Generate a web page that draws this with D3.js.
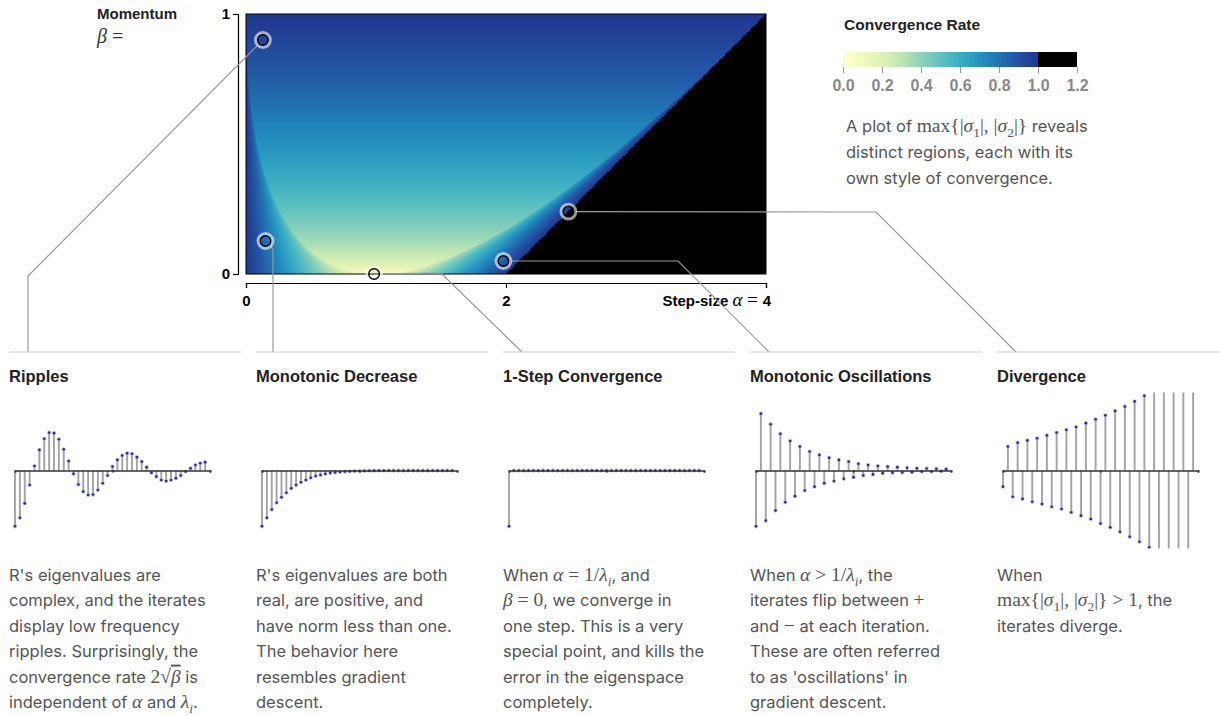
<html>
<head>
<script src="https://d3js.org/d3.v7.min.js"></script>
<style>
  body { margin: 0; background: #fff; }
  svg { display: block; }
  .ttl { font-family: "Liberation Sans", Arial, sans-serif; font-weight: bold; font-size: 16.5px; fill: #222; }
  .body { font-family: Inter, "Noto Sans", sans-serif; font-size: 16.5px; fill: #555; }
  .tk text { font-family: "Liberation Sans", Arial, sans-serif; font-weight: bold; font-size: 15px; fill: #000; }
  .tk path, .tk line { stroke: #000; stroke-width: 1.2; }
</style>
</head>
<body>
<div id="fig"></div>
<script>
// ---- data ----
var alphaDomain = [0, 4];
var betaDomain = [0, 1];
var rateTicks = [0, 0.2, 0.4, 0.6, 0.8, 1.0, 1.2];

var panelTitles = ["Ripples", "Monotonic Decrease", "1-Step Convergence", "Monotonic Oscillations", "Divergence"];
// sample points marked on the heatmap (alpha, beta) for each panel
var pointAlpha = [0.13, 0.15, 0.985, 1.98, 2.48];
var pointBeta  = [0.90, 0.127, 0.0, 0.05, 0.24];

var ripples = [-1, -0.85, -0.59, -0.26, 0.08, 0.37, 0.57, 0.68, 0.67, 0.56,
  0.38, 0.17, -0.06, -0.25, -0.38, -0.44, -0.43, -0.35, -0.23, -0.09,
  0.07, 0.19, 0.27, 0.31, 0.30, 0.24, 0.16, 0.06, -0.04, -0.11,
  -0.17, -0.19, -0.17, -0.14, -0.09, -0.02, 0.04, 0.10, 0.13, 0.15];
var monoDecrease = [-1, -0.85, -0.70, -0.58, -0.48, -0.40, -0.32, -0.26, -0.21, -0.17,
  -0.13, -0.10, -0.08, -0.06, -0.045, -0.035, -0.027, -0.02, -0.015, -0.011,
  -0.008, -0.006, -0.004, -0.003, -0.002, -0.0015, -0.001, -0.001, 0, 0,
  0, 0, 0, 0, 0, 0, 0, 0, 0, 0];
var oneStep = [-1, 0, 0, 0, 0, 0, 0, 0, 0, 0,
  0, 0, 0, 0, 0, 0, 0, 0, 0, 0,
  0, 0, 0, 0, 0, 0, 0, 0, 0, 0,
  0, 0, 0, 0, 0, 0, 0, 0, 0, 0];
var monoOscillation = [-1, 1.02, -0.90, 0.83, -0.72, 0.66, -0.57, 0.53, -0.46, 0.43,
  -0.36, 0.34, -0.29, 0.28, -0.23, 0.23, -0.19, 0.19, -0.15, 0.16,
  -0.12, 0.12, -0.09, 0.10, -0.07, 0.08, -0.05, 0.07, -0.04, 0.06,
  -0.036, 0.05, -0.03, 0.04, -0.02, 0.036, -0.02, 0.03, -0.012, 0.024];
var divergence = [-0.29, 0.43, -0.47, 0.50, -0.51, 0.54, -0.56, 0.58, -0.60, 0.63,
  -0.65, 0.68, -0.69, 0.73, -0.75, 0.78, -0.81, 0.85, -0.87, 0.92,
  -0.95, 0.99, -1.02, 1.07, -1.10, 1.15, -1.19, 1.24, -1.28, 1.34,
  -1.38, 1.44, -1.50, 1.56, -1.63, 1.70, -1.77, 1.84, -1.92, 2.00];
var series = [ripples, monoDecrease, oneStep, monoOscillation, divergence];

// text: $...$ is math, _x subscript, ~x overlined
var panelText = [
  ["R's eigenvalues are", "complex, and the iterates", "display low frequency", "ripples. Surprisingly, the",
   "convergence rate $2√~β$ is", "independent of $α$ and $λ_i$."],
  ["R's eigenvalues are both", "real, are positive, and", "have norm less than one.", "The behavior here",
   "resembles gradient", "descent."],
  ["When $α = 1/λ_i$, and", "$β = 0$, we converge in", "one step. This is a very", "special point, and kills the",
   "error in the eigenspace", "completely."],
  ["When $α > 1/λ_i$, the", "iterates flip between $+$", "and $−$ at each iteration.", "These are often referred",
   "to as 'oscillations' in", "gradient descent."],
  ["When", "$max{|σ_1|, |σ_2|} > 1$, the", "iterates diverge."]
];
var descText = ["A plot of $max{|σ_1|, |σ_2|}$ reveals", "distinct regions, each with its", "own style of convergence."];

// ---- setup ----
var width = 1220, height = 715;
var svg = d3.select("#fig").append("svg")
  .attr("width", width)
  .attr("height", height);

var x = d3.scaleLinear().domain(alphaDomain).range([246, 766]);
var y = d3.scaleLinear().domain(betaDomain).range([274, 14]);
var color = d3.scaleSequential(d3.interpolateYlGnBu).domain([0, 1 / 0.875]);

// spectral radius of the momentum iteration matrix (lambda = 1)
function rate(a, b) {
  var tr = 1 + b - a;
  var disc = tr * tr - 4 * b;
  if (disc < 0) return Math.sqrt(b);
  var s = Math.sqrt(disc);
  return Math.max(Math.abs((tr + s) / 2), Math.abs((tr - s) / 2));
}
function rateColor(r) { return r >= 1 ? "#000" : color(r); }

// heatmap via canvas -> image
var hw = 520, hh = 260;
var cv = document.createElement("canvas");
cv.width = hw; cv.height = hh;
var ctx = cv.getContext("2d");
var img = ctx.createImageData(hw, hh);
for (var py = 0; py < hh; py++) {
  for (var px = 0; px < hw; px++) {
    var c = d3.rgb(rateColor(rate(x.invert(246 + px + 0.5), y.invert(14 + py + 0.5))));
    var k = (py * hw + px) * 4;
    img.data[k] = c.r; img.data[k + 1] = c.g; img.data[k + 2] = c.b; img.data[k + 3] = 255;
  }
}
ctx.putImageData(img, 0, 0);
svg.append("image")
  .attr("x", 246).attr("y", 14).attr("width", hw).attr("height", hh)
  .attr("href", cv.toDataURL());
svg.append("rect")
  .attr("x", 246).attr("y", 14).attr("width", hw).attr("height", hh)
  .attr("fill", "none").attr("stroke", "#000").attr("stroke-width", 1);

// axes
svg.append("g").attr("class", "tk")
  .attr("transform", "translate(238,0)")
  .call(d3.axisLeft(y).tickValues([0, 1]).tickSize(5).tickFormat(d3.format("d")));
var xa = svg.append("g").attr("class", "tk")
  .attr("transform", "translate(0,283)")
  .call(d3.axisBottom(x).tickValues([0, 2, 4]).tickSize(5).tickFormat(d3.format("d")));
xa.selectAll(".tick text").attr("dy", "1.0em");
xa.selectAll(".tick").filter(function(d) { return d == 4; }).select("text")
  .attr("text-anchor", "end").attr("dx", "0.3em")
  .text(null)
  .call(function(t) {
    t.append("tspan").text("Step-size ");
    t.append("tspan").attr("font-family", "'Liberation Serif', serif").attr("font-style", "italic")
      .attr("font-weight", "normal").attr("font-size", 19).text("α");
    t.append("tspan").attr("font-family", "'Liberation Serif', serif")
      .attr("font-weight", "normal").attr("font-size", 19).text(" = ");
    t.append("tspan").text("4");
  });

svg.append("text").attr("class", "ttl").attr("x", 97).attr("y", 19).style("font-size", "15px").text("Momentum");
svg.append("text").attr("x", 97).attr("y", 43)
  .attr("font-family", "'Liberation Serif', serif").attr("font-size", 20).attr("fill", "#333")
  .call(function(t) {
    t.append("tspan").attr("font-style", "italic").text("β");
    t.append("tspan").text(" =");
  });

// ---- colour legend ----
var lx = d3.scaleLinear().domain([0, 1.2]).range([843, 1077]);
var grad = svg.append("defs").append("linearGradient").attr("id", "cgrad");
d3.range(0, 1.0001, 0.05).forEach(function(v) {
  grad.append("stop").attr("offset", (v * 100) + "%").attr("stop-color", color(v));
});
svg.append("text").attr("class", "ttl").attr("x", 844).attr("y", 30).style("font-size", "15.5px").text("Convergence Rate");
svg.append("rect").attr("x", lx(0)).attr("y", 52).attr("width", lx(1) - lx(0)).attr("height", 15)
  .attr("fill", "url(#cgrad)");
svg.append("rect").attr("x", lx(1)).attr("y", 52).attr("width", lx(1.2) - lx(1)).attr("height", 15)
  .attr("fill", "#000");
var la = svg.append("g").attr("transform", "translate(0,67)")
  .call(d3.axisBottom(lx).tickValues(rateTicks).tickSize(6).tickFormat(d3.format(".1f")));
la.select(".domain").remove();
la.selectAll("line").attr("stroke", "#999");
la.selectAll("text").attr("fill", "#888").attr("font-size", 16).attr("font-weight", "bold")
  .attr("font-family", "'Liberation Sans', Arial, sans-serif").attr("dy", "0.95em");

// ---- rich text helper ----
function richLine(sel, str) {
  var parts = str.split("$");
  var off = 0;
  parts.forEach(function(p, pi) {
    if (pi % 2 == 0) {
      if (p.length) sel.append("tspan").attr("dy", -off).text(p), off = 0;
      return;
    }
    var i = 0;
    while (i < p.length) {
      var ch = p[i];
      var ts = sel.append("tspan").attr("font-family", "'Liberation Serif', 'DejaVu Serif', serif").attr("font-size", 19.5);
      if (p.substr(i, 3) == "max") { ts.attr("dy", -off).text("max"); off = 0; i += 3; continue; }
      if (ch == "_") {
        ts.attr("font-size", 13.5).attr("dy", 4.5 - off).text(p[i + 1]);
        if (/[a-z]/.test(p[i + 1])) ts.attr("font-style", "italic");
        off = 4.5; i += 2; continue;
      }
      if (ch == "~") {
        ts.attr("font-style", "italic").attr("dy", -off).style("text-decoration", "overline").text(p[i + 1]);
        off = 0; i += 2; continue;
      }
      if (/[a-zA-Zα-ω]/.test(ch)) ts.attr("font-style", "italic");
      ts.attr("dy", -off).text(ch);
      off = 0; i++;
    }
  });
  if (off) sel.append("tspan").attr("dy", -off).text("");
}

descText.forEach(function(s, i) {
  var t = svg.append("text").attr("class", "body").attr("x", 846).attr("y", 132 + i * 26);
  richLine(t, s);
});

// ---- panels ----
var colX = [9, 256, 503, 750, 997];
var base = 470.5;
var ys = d3.scaleLinear().domain([-1.4, 1.4]).range([base + 78, base - 78]);
var elbows = [
  [[28, 276], [28, 352]],
  [[273, 249], [273, 352]],
  [[441, 273], [522, 352]],
  [[678, 261], [769, 352]],
  [[876, 212], [1016, 352]]
];

// connectors first, so the rings sit on top
pointAlpha.forEach(function(a, i) {
  var cx = x(a), cy = y(pointBeta[i]);
  var p1 = elbows[i][0];
  var dx = p1[0] - cx, dy = p1[1] - cy, L = Math.sqrt(dx * dx + dy * dy);
  var pts = [[cx + dx / L * 8, cy + dy / L * 8]].concat(elbows[i]);
  svg.append("path")
    .attr("d", d3.line()(pts))
    .attr("fill", "none").attr("stroke", "#999").attr("stroke-width", 1.2);
});
pointAlpha.forEach(function(a, i) {
  var cx = x(a), cy = y(pointBeta[i]);
  svg.append("circle").attr("cx", cx).attr("cy", cy).attr("r", 7.2)
    .attr("fill", "none").attr("stroke", "rgba(255,255,255,0.6)").attr("stroke-width", 3.5);
  svg.append("circle").attr("cx", cx).attr("cy", cy).attr("r", 5.3)
    .attr("fill", "none").attr("stroke", "#000").attr("stroke-width", 1.4);
});

var defs = svg.select("defs");
colX.forEach(function(cx0, pi) {
  var g = svg.append("g");
  g.append("line").attr("x1", cx0).attr("x2", cx0 + 232).attr("y1", 352).attr("y2", 352)
    .attr("stroke", "#ccc").attr("stroke-width", 1);
  g.append("text").attr("class", "ttl").attr("x", cx0).attr("y", 382).text(panelTitles[pi]);

  var xs = d3.scaleLinear().domain([0, 40]).range([cx0 + 6, cx0 + 201]);
  defs.append("clipPath").attr("id", "clip" + pi).append("rect")
    .attr("x", cx0).attr("y", ys(1.4)).attr("width", 232).attr("height", ys(-1.4) - ys(1.4));
  var pg = g.append("g").attr("clip-path", "url(#clip" + pi + ")");
  var d = series[pi];
  pg.selectAll(".stem").data(d).enter().append("line")
    .attr("x1", function(v, i) { return xs(i); })
    .attr("x2", function(v, i) { return xs(i); })
    .attr("y1", ys(0))
    .attr("y2", function(v) { return ys(v); })
    .attr("stroke", "#a3a3a3").attr("stroke-width", 1.9);
  var ax = g.append("g").attr("transform", "translate(0," + base + ")")
    .call(d3.axisBottom(xs).tickValues([0, 20, 40]).tickSize(2).tickSizeOuter(2).tickFormat(""));
  ax.selectAll("path, line").attr("stroke", "#333").attr("stroke-width", 1.7);
  pg.selectAll(".halo").data(d).enter().append("circle")
    .attr("cx", function(v, i) { return xs(i); })
    .attr("cy", function(v) { return ys(v); })
    .attr("r", 2.2).attr("fill", "#b4b4e6").attr("opacity", 0.7);
  pg.selectAll(".dot").data(d).enter().append("circle")
    .attr("cx", function(v, i) { return xs(i); })
    .attr("cy", function(v) { return ys(v); })
    .attr("r", 1.3).attr("fill", "#2b2b8c");

  panelText[pi].forEach(function(s, li) {
    var t = g.append("text").attr("class", "body").attr("x", cx0).attr("y", 581 + li * 25.4);
    richLine(t, s);
  });
});
</script>
</body>
</html>
